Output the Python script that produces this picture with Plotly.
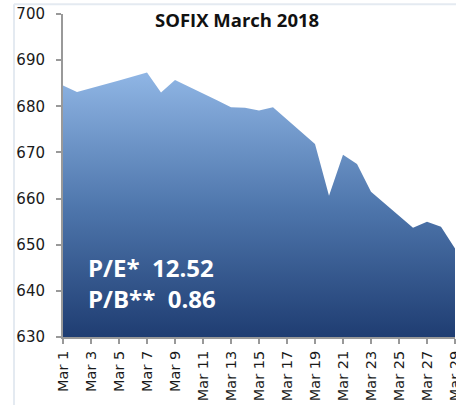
import plotly.graph_objects as go

dates = ["2018-03-01", "2018-03-02", "2018-03-05", "2018-03-06", "2018-03-07",
         "2018-03-08", "2018-03-09", "2018-03-12", "2018-03-13", "2018-03-14",
         "2018-03-15", "2018-03-16", "2018-03-19", "2018-03-20", "2018-03-21",
         "2018-03-22", "2018-03-23", "2018-03-26", "2018-03-27", "2018-03-28",
         "2018-03-29"]
sofix = [684.5, 683.1, 685.6, 686.4, 687.3,
         683.0, 685.7, 681.3, 679.8, 679.7,
         679.1, 679.8, 671.8, 660.6, 669.5,
         667.5, 661.5, 653.7, 655.0, 653.9,
         649.2]

tick_dates = ["2018-03-%02d" % d for d in range(1, 30, 2)]
tick_labels = ["Mar %d" % d for d in range(1, 30, 2)]
y_ticks = [630, 640, 650, 660, 670, 680, 690, 700]

title_text = "SOFIX March 2018"
ratio_lines = ["P/E*  12.52", "P/B**  0.86"]

fig = go.Figure()
fig.add_trace(go.Scatter(
    x=dates, y=sofix, mode="lines", fill="tozeroy",
    line=dict(width=0, color="rgba(0,0,0,0)"),
    fillgradient=dict(type="vertical", start=630, stop=687,
                      colorscale=[[0, "#1f3d72"], [0.5, "#4f77ad"], [1, "#8fb5e4"]]),
    hoverinfo="skip", showlegend=False,
))

axis_col = "#999999"
ratio_html = "<br>".join("<b>%s</b>" % s.replace("  ", "&nbsp; ") for s in ratio_lines)
fig.update_layout(
    width=456, height=405,
    margin=dict(l=63, r=1, t=14, b=68, autoexpand=False),
    paper_bgcolor="white", plot_bgcolor="white",
    font=dict(family="DejaVu Sans", color="#1a1a1a"),
    xaxis=dict(type="date", range=["2018-03-01", "2018-03-29"], automargin=False,
               tickvals=tick_dates, ticktext=tick_labels, tickangle=-90,
               tickfont=dict(size=14.5, family="DejaVu Sans", color="#1a1a1a"),
               ticklabelstandoff=1, ticklabeloverflow="allow",
               showgrid=False, zeroline=False, showline=True, linecolor=axis_col,
               linewidth=2, ticks="outside", ticklen=5, tickcolor=axis_col, tickwidth=1.5),
    yaxis=dict(range=[630, 700], tickvals=y_ticks, automargin=False,
               tickfont=dict(size=15, family="DejaVu Sans", color="#1a1a1a"),
               ticklabelstandoff=8,
               showgrid=False, zeroline=False, showline=True, linecolor=axis_col,
               linewidth=2, ticks="outside", ticklen=5, tickcolor=axis_col, tickwidth=1.5),
    annotations=[
        dict(text="<b>%s</b>" % title_text, x=0.444, y=0.982, xref="paper", yref="paper",
             xanchor="center", yanchor="middle", showarrow=False,
             font=dict(size=18.5, family="Open Sans", color="#111111")),
        dict(text=ratio_html,
             x=0.058, y=0.168, xref="paper", yref="paper", align="left",
             xanchor="left", yanchor="middle", showarrow=False,
             font=dict(size=24, family="Open Sans", color="white")),
    ],
    shapes=[
        dict(type="line", xref="paper", yref="paper", x0=-0.125, x1=1.01, y0=1.03, y1=1.03,
             line=dict(color="#e4eaf1", width=2)),
        dict(type="line", xref="paper", yref="paper", x0=-0.125, x1=-0.125, y0=1.03, y1=-0.22,
             line=dict(color="#e4eaf1", width=2)),
    ],
)

fig.write_html("out.html", config={"displayModeBar": False},
               post_script="document.body.style.margin='0';document.body.style.overflow='hidden';")
